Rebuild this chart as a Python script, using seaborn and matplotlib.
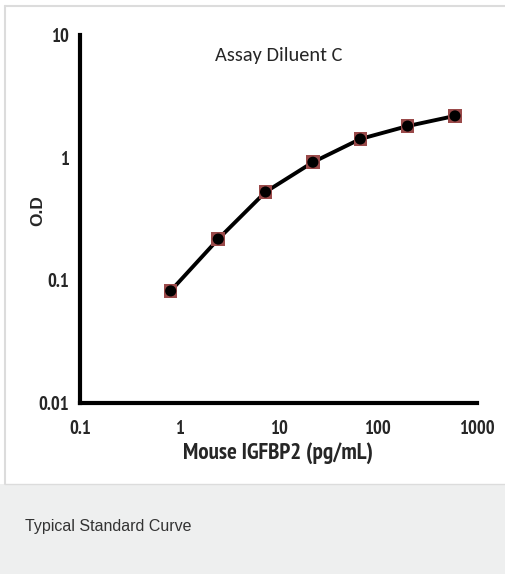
import matplotlib
matplotlib.use("Agg")
import matplotlib.pyplot as plt
import seaborn as sns
import pandas as pd
from matplotlib.patches import Rectangle
from matplotlib.lines import Line2D
from matplotlib import font_manager
from matplotlib.font_manager import FontProperties

sns.set_style("white")
plt.rcParams['font.family'] = ['Liberation Sans', 'DejaVu Sans']

conc = [0.82, 2.47, 7.4, 22.2, 66.7, 200, 600]
od = [0.082, 0.217, 0.525, 0.918, 1.42, 1.81, 2.19]
x_ticks = [0.1, 1, 10, 100, 1000]
x_tick_labels = ["0.1", "1", "10", "100", "1000"]
y_ticks = [0.01, 0.1, 1, 10]
y_tick_labels = ["0.01", "0.1", "1", "10"]
title = "Assay Diluent C"
x_label = "Mouse IGFBP2 (pg/mL)"
y_label = "O.D"
caption = "Typical Standard Curve"


def wnum(w):
    if isinstance(w, (int, float)):
        return w
    return font_manager.weight_dict.get(w, 400)


def find_font(names, weight):
    fl = font_manager.fontManager.ttflist
    for n in names:
        for f in fl:
            if f.name == n and wnum(f.weight) == weight and f.style == "normal" and "[" not in f.fname:
                return f.fname
    return None


bold_narrow = find_font(["Liberation Sans Narrow", "Arial Narrow", "PT Sans Narrow",
                         "Roboto Condensed", "Asap Condensed", "DejaVu Sans"], 700)
reg_title = find_font(["Carlito", "Calibri", "PT Sans Narrow", "Roboto Condensed",
                       "Asap Condensed", "Liberation Sans"], 400)
bold_plain = find_font(["Liberation Sans", "Arimo", "DejaVu Sans"], 700)


def fp(path, size, fallback_weight="normal"):
    if path:
        return FontProperties(fname=path, size=size)
    return FontProperties(family="Liberation Sans", weight=fallback_weight, size=size)


df = pd.DataFrame({"conc": conc, "od": od})

W, H = 506, 574
fig = plt.figure(figsize=(W / 100, H / 100), dpi=100)
fig.patch.set_facecolor("white")

fig.patches.append(Rectangle((0, 0), 1, 90 / H, transform=fig.transFigure,
                             facecolor="#eeefef", edgecolor="none", zorder=0))
fig.lines.append(Line2D([5 / W, 5 / W], [90 / H, 1 - 6 / H], transform=fig.transFigure,
                        color="#dcdcdc", lw=1.5))
fig.lines.append(Line2D([5 / W, 1], [1 - 6 / H, 1 - 6 / H], transform=fig.transFigure,
                        color="#dcdcdc", lw=1.5))
fig.lines.append(Line2D([5 / W, 1], [90 / H, 90 / H], transform=fig.transFigure,
                        color="#dcdcdc", lw=1.0))
fig.text(25 / W, 1 - 527 / H, caption, fontsize=11.5, color="#333333",
         family=['Liberation Sans', 'DejaVu Sans'], va="center", ha="left")

ax = fig.add_axes([80 / W, 1 - 403 / H, (477 - 80) / W, (403 - 35) / H])
ax.set_facecolor("none")
ax.set_xscale("log")
ax.set_yscale("log")

sns.lineplot(data=df, x="conc", y="od", ax=ax, color="black", lw=2.8, zorder=3)
sns.scatterplot(data=df, x="conc", y="od", ax=ax, marker="s", s=95, color="#9a4a4a",
                edgecolor="none", zorder=4)
sns.scatterplot(data=df, x="conc", y="od", ax=ax, marker="o", s=64, color="black",
                edgecolor="none", zorder=5)

ax.set_xlim(0.1, 1000)
ax.set_ylim(0.01, 10)
ax.set_xticks(x_ticks)
ax.set_xticklabels(x_tick_labels)
ax.set_yticks(y_ticks)
ax.set_yticklabels(y_tick_labels)
ax.minorticks_off()
ax.tick_params(axis="x", direction="out", length=3, width=2, color="black", pad=9)
ax.tick_params(axis="y", direction="out", length=3, width=2, color="black", pad=5)

for s in ["top", "right"]:
    ax.spines[s].set_visible(False)
for s in ["left", "bottom"]:
    ax.spines[s].set_linewidth(3)
    ax.spines[s].set_color("black")

xl = ax.set_xlabel(x_label, fontproperties=fp(bold_narrow, 14, "bold"), labelpad=3)
yl = ax.set_ylabel(y_label, fontproperties=fp(bold_plain, 12.5, "bold"))
ax.yaxis.set_label_coords(-0.088, 0.522)
tt = ax.text(0.5, 0.945, title, transform=ax.transAxes, ha="center", va="center",
             fontproperties=fp(reg_title, 15))

# fit text sizes to the reference's text extents (in pixels)
renderer = fig.canvas.get_renderer()


def fit(txt, target_px, size):
    w = txt.get_window_extent(renderer).width
    return size * target_px / w if w > 0 else size


xl.set_fontsize(fit(xl, 191, 14))
tt.set_fontsize(fit(tt, 127, 15))
probe = fig.text(0, 0, "1000", fontproperties=fp(bold_narrow, 12, "bold"))
tick_size = fit(probe, 36, 12)
probe.remove()
for lab in ax.get_xticklabels() + ax.get_yticklabels():
    lab.set_fontproperties(fp(bold_narrow, tick_size, "bold"))

fig.savefig("out.png", dpi=100)
